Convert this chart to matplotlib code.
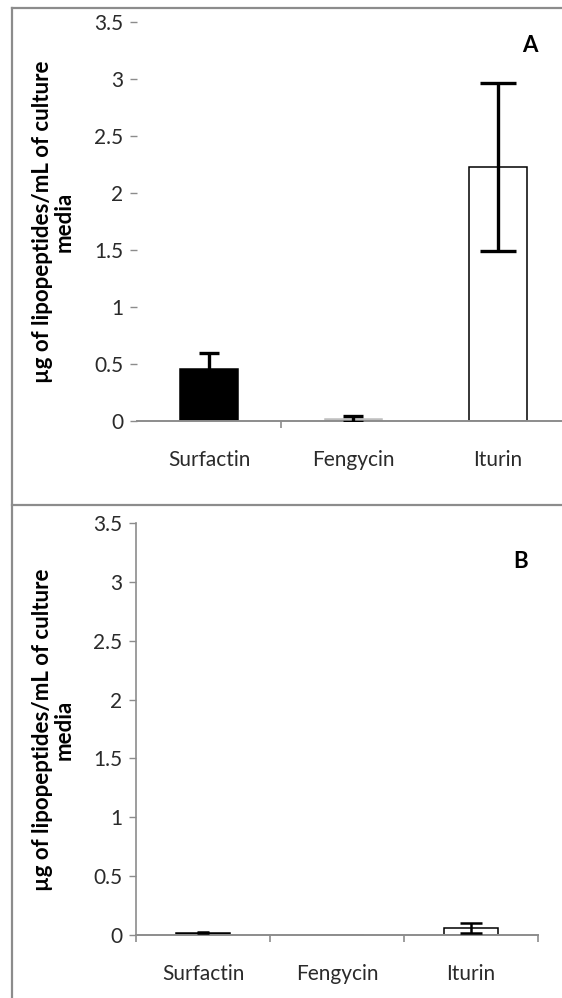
import numpy as np
import matplotlib.pyplot as plt
from matplotlib.lines import Line2D

# lipopeptide yield per condition (ug/mL of culture media)
categories = ['Surfactin', 'Fengycin', 'Iturin']
mean_a = [0.46, 0.02, 2.23]
err_a = [0.14, 0.025, 0.735]
mean_b = [0.02, 0.0, 0.06]
err_b = [0.005, 0.0, 0.045]
yticks = [0, 0.5, 1, 1.5, 2, 2.5, 3, 3.5]
ytick_labels = ['0', '0.5', '1', '1.5', '2', '2.5', '3', '3.5']
ylabel = 'µg of lipopeptides/mL of culture\nmedia'

bar_colors = ['black', '#bfbfbf', 'white']
bar_edges = ['black', '#bfbfbf', 'black']
axis_gray = '#8c8c8c'

plt.rcParams['font.family'] = ['Lato', 'DejaVu Sans']

fig = plt.figure(figsize=(5.62, 9.98), dpi=100)


def draw_panel(ax, means, errs, caps, elw, show_left):
    x = np.arange(len(categories))
    ax.bar(x, means, width=0.4, color=bar_colors, edgecolor=bar_edges,
           linewidth=1.1, zorder=2)
    for xi, m, e, c in zip(x, means, errs, caps):
        if e > 0:
            ax.errorbar(xi, m, yerr=e, fmt='none', ecolor='black',
                        elinewidth=elw, capsize=c, capthick=elw, zorder=3)
    ax.set_ylim(0, 3.5)
    ax.set_xlim(-0.5, 2.5)
    ax.set_yticks(yticks)
    ax.set_yticklabels(ytick_labels)
    ax.set_xticks(x)
    ax.set_xticklabels(categories)
    for s in ['top', 'right']:
        ax.spines[s].set_visible(False)
    ax.spines['bottom'].set_color(axis_gray)
    ax.spines['bottom'].set_linewidth(1.4)
    ax.spines['left'].set_color(axis_gray)
    ax.spines['left'].set_linewidth(1.2)
    ax.spines['left'].set_visible(show_left)
    ax.tick_params(axis='y', length=5, width=1, color=axis_gray, pad=5,
                   labelsize=15, labelcolor='#2a2a2a')
    ax.tick_params(axis='x', which='major', length=0, pad=21,
                   labelsize=15, labelcolor='#2a2a2a')
    ax.tick_params(axis='x', which='minor', length=5, width=1.2,
                   color=axis_gray)
    ax.patch.set_alpha(0)


# panel A, plot area runs past the right edge
ax_a = fig.add_axes([0.2438, 0.5782, 0.7704, 0.3998])
draw_panel(ax_a, mean_a, err_a, [7, 7, 13], 2.4, False)
ax_a.set_xticks([0.5], minor=True)
fig.text(530 / 562, 1 - 45 / 998, 'A', ha='center', va='center',
         fontsize=16, fontweight='bold')

# panel B
ax_b = fig.add_axes([0.242, 0.0631, 0.7153, 0.4128])
draw_panel(ax_b, mean_b, err_b, [4, 4, 8], 1.8, True)
ax_b.set_xticks([-0.5, 0.5, 1.5, 2.5], minor=True)
fig.text(521 / 562, 1 - 562 / 998, 'B', ha='center', va='center',
         fontsize=16, fontweight='bold')

# rotated axis titles
for yc in [222, 730]:
    fig.text(53 / 562, 1 - yc / 998, ylabel, rotation=90, ha='center',
             va='center', multialignment='center', fontsize=16,
             fontweight='bold', linespacing=1.05)

# frame lines around the panels
frame = dict(color='#8c8c8c', linewidth=1.6, transform=fig.transFigure)
fig.add_artist(Line2D([12 / 562, 12 / 562], [0, 1 - 8 / 998], **frame))
fig.add_artist(Line2D([12 / 562, 1], [1 - 8 / 998, 1 - 8 / 998], **frame))
fig.add_artist(Line2D([12 / 562, 1], [1 - 505 / 998, 1 - 505 / 998], **frame))

fig.savefig('out.png', dpi=100)
